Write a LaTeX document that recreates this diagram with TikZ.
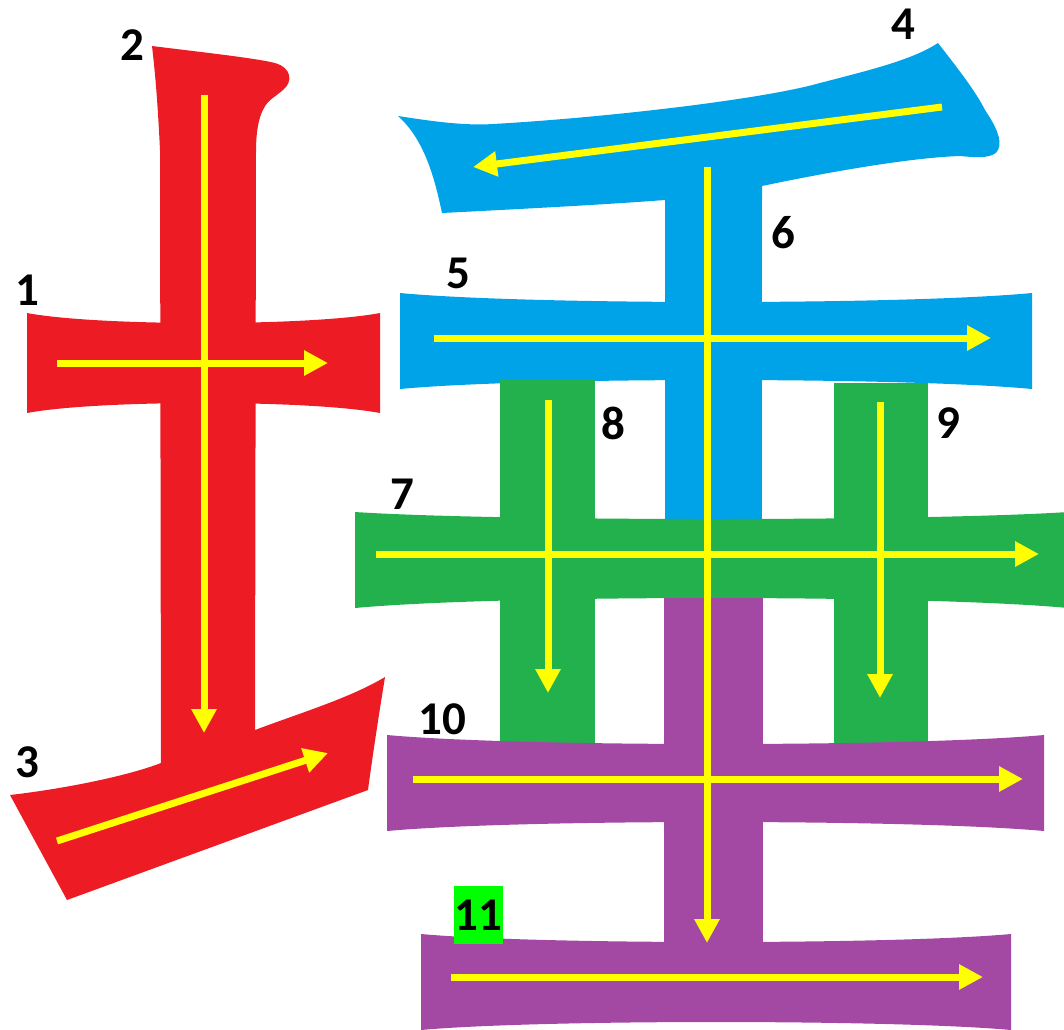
\documentclass[tikz,border=0pt]{standalone}
\usepackage{fontspec}
\setmainfont{Carlito}
\usetikzlibrary{arrows.meta}
\definecolor{sred}{HTML}{ED1C24}
\definecolor{sblue}{HTML}{00A2E8}
\definecolor{sgreen}{HTML}{22B14C}
\definecolor{spurple}{HTML}{A349A4}
\definecolor{syellow}{HTML}{FFFF00}
\definecolor{lblgreen}{HTML}{00FF00}
\newcommand\hstrokeshape[7]{% color, L, R, top, bottom, top-mid, bottom-mid
  \pgfmathsetmacro\hsCa{#4+4/3*(#6-#4)}%
  \pgfmathsetmacro\hsCb{#5+4/3*(#7-#5)}%
  \pgfmathsetmacro\hsXa{#2+0.2*(#3-#2)}%
  \pgfmathsetmacro\hsXb{#3-0.2*(#3-#2)}%
  \fill[#1] (#2,#4) .. controls (\hsXa,\hsCa) and (\hsXb,\hsCa) .. (#3,#4)
    -- (#3,#5) .. controls (\hsXb,\hsCb) and (\hsXa,\hsCb) .. (#2,#5) -- cycle;}
\begin{document}
\begin{tikzpicture}[x=1pt,y=-1pt,
  lbl/.style={font=\fontsize{47}{47}\selectfont\bfseries, inner sep=0pt, anchor=center},
  dirarrow/.style={draw=syellow, line width=7pt, -{Triangle[length=24pt,width=24pt]}}]
\useasboundingbox (0,0) rectangle (1064,1029);
\clip (0,0) rectangle (1064,1029);

% ---- red: strokes 1,2,3 ----
\hstrokeshape{sred}{27}{380}{313}{413}{323}{403}
\fill[sred] (152,46) .. controls (200,52) and (255,58) .. (275,63)
  .. controls (292,68) and (293,82) .. (283,90)
  .. controls (275,97) and (268,100) .. (264,108)
  .. controls (258,118) and (256,135) .. (256,150)
  -- (255,740) -- (161,770) -- (160,150)
  .. controls (158,110) and (156,80) .. (152,46) -- cycle;
\fill[sred] (10,795) .. controls (70,788) and (130,775) .. (161,763)
  -- (161,740) -- (255,740) -- (255,730)
  .. controls (300,713) and (350,698) .. (385,677)
  .. controls (378,720) and (372,760) .. (368,790)
  -- (67,900) -- cycle;

% ---- blue: strokes 4,5,6 ----
\fill[sblue] (398,116) .. controls (430,121) and (465,126) .. (493,124)
  .. controls (600,118) and (760,100) .. (820,83)
  .. controls (870,70) and (912,60) .. (938,43)
  .. controls (955,65) and (975,90) .. (985,110)
  .. controls (995,125) and (1003,140) .. (998,150)
  .. controls (994,158) and (980,158) .. (960,156)
  .. controls (900,158) and (800,178) .. (762,186)
  -- (762,200) -- (665,200)
  .. controls (600,205) and (500,210) .. (442,213)
  .. controls (435,180) and (425,140) .. (398,116) -- cycle;
\fill[sblue] (665,190) rectangle (762,530);
\hstrokeshape{sblue}{400}{1032}{293}{389}{302}{380}

% ---- green: strokes 7,8,9 ----
\fill[sgreen] (500,379) rectangle (595,750);
\fill[sgreen] (834,383) rectangle (928,750);
\hstrokeshape{sgreen}{355}{1068}{512}{608}{519}{598}

% ---- purple: strokes 10,11 and lower stem ----
\fill[spurple] (664,598) rectangle (763,950);
\hstrokeshape{spurple}{387}{1044}{735}{831}{744}{822}
\hstrokeshape{spurple}{421}{1011}{934}{1030}{942}{1022}

% ---- direction arrows ----
\coordinate (a1s) at (57,363);   \coordinate (a1e) at (328,363);
\coordinate (a2s) at (204,95);   \coordinate (a2e) at (204,733);
\coordinate (a3s) at (57,841);   \coordinate (a3e) at (328,753);
\coordinate (a4s) at (942,107);  \coordinate (a4e) at (473,167);
\coordinate (a5s) at (434,338);  \coordinate (a5e) at (991,338);
\coordinate (a6s) at (707,167);  \coordinate (a6e) at (707,943);
\coordinate (a7s) at (376,554);  \coordinate (a7e) at (1039,554);
\coordinate (a8s) at (548,400);  \coordinate (a8e) at (548,693);
\coordinate (a9s) at (880,402);  \coordinate (a9e) at (880,698);
\coordinate (a10s) at (413,779); \coordinate (a10e) at (1023,779);
\coordinate (a11s) at (451,977); \coordinate (a11e) at (983,977);
\foreach \k in {1,...,11}{\draw[dirarrow] (a\k s) -- (a\k e);}

% ---- labels ----
\node[lbl] (l1) at (27,290) {1};
\node[lbl] (l2) at (132,45) {2};
\node[lbl] (l3) at (27,762) {3};
\node[lbl] (l4) at (903,24) {4};
\node[lbl] (l5) at (458,273) {5};
\node[lbl] (l6) at (783,233) {6};
\node[lbl] (l7) at (402,494) {7};
\node[lbl] (l8) at (613,423) {8};
\node[lbl] (l9) at (948,423) {9};
\node[lbl] (l10) at (442,719) {10};
\node[lbl, fill=lblgreen, minimum width=49pt, minimum height=58pt] (l11) at (478,915) {11};
\end{tikzpicture}
\end{document}
